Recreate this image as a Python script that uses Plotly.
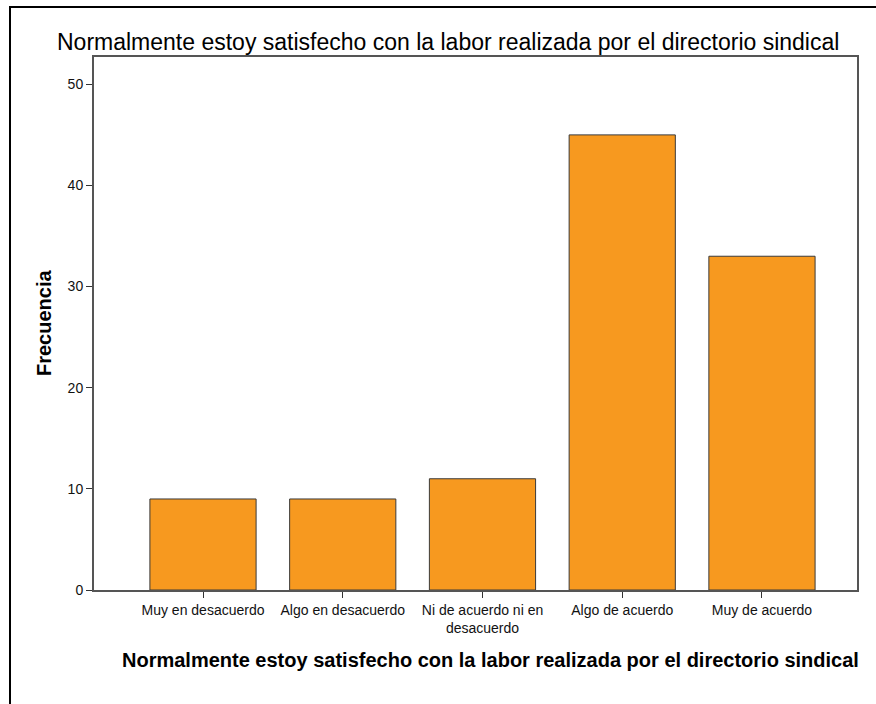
import plotly.graph_objects as go

categories = ["Muy en desacuerdo", "Algo en desacuerdo", "Ni de acuerdo ni en<br>desacuerdo",
              "Algo de acuerdo", "Muy de acuerdo"]
frecuencia = [9, 9, 11, 45, 33]
title_text = "Normalmente estoy satisfecho con la labor realizada por el directorio sindical"
y_ticks = [0, 10, 20, 30, 40, 50]

W, H = 876, 704
L, R, T, B = 94, 19, 57, 114

fig = go.Figure()
fig.add_trace(go.Bar(
    x=list(range(len(categories))), y=frecuencia, width=0.76,
    marker=dict(color="#F7991F", line=dict(color="#3a3a3a", width=1)),
    hoverinfo="skip"
))

font = "Liberation Sans, Arial, sans-serif"
PW, PH = W - L - R, H - T - B
fig.update_layout(
    width=W, height=H, margin=dict(l=L, r=R, t=T, b=B),
    paper_bgcolor="white", plot_bgcolor="white", showlegend=False,
    font=dict(family=font, color="#000000"),
    xaxis=dict(range=[-0.78, 4.68], tickmode="array", tickvals=list(range(len(categories))),
               ticktext=categories, ticks="outside", ticklen=6, tickcolor="#333333",
               tickfont=dict(size=14, color="#111111"), showgrid=False, zeroline=False,
               showline=True, linecolor="#555555", linewidth=2, mirror=True, fixedrange=True),
    yaxis=dict(range=[0, 52.7], tickvals=y_ticks, ticks="outside", ticklen=6, tickcolor="#333333",
               tickfont=dict(size=14, color="#111111"), showgrid=False, zeroline=False,
               showline=True, linecolor="#555555", linewidth=2, mirror=True, fixedrange=True),
    annotations=[
        dict(text=title_text, xref="paper", yref="paper",
             x=(448 - L) / PW, y=(H - B - 42) / PH,
             xanchor="center", yanchor="middle", showarrow=False,
             font=dict(size=23, family=font, color="#000000")),
        dict(text="<b>" + title_text + "</b>", xref="paper", yref="paper",
             x=(490 - L) / PW, y=(H - B - 660) / PH,
             xanchor="center", yanchor="middle", showarrow=False,
             font=dict(size=20, family=font, color="#000000")),
        dict(text="<b>Frecuencia</b>", xref="paper", yref="paper", textangle=-90,
             x=(44 - L) / PW, y=(H - B - 323) / PH,
             xanchor="center", yanchor="middle", showarrow=False,
             font=dict(size=20, family=font, color="#000000")),
    ],
    shapes=[dict(type="rect", xref="paper", yref="paper",
                 x0=(10 - L) / PW, x1=1.2,
                 y0=-0.5, y1=(H - B - 7) / PH,
                 line=dict(color="#000000", width=2), layer="below")],
)
fig.write_html("out.html", config={"displayModeBar": False},
               post_script="document.body.style.margin='0';document.body.style.overflow='hidden';")
